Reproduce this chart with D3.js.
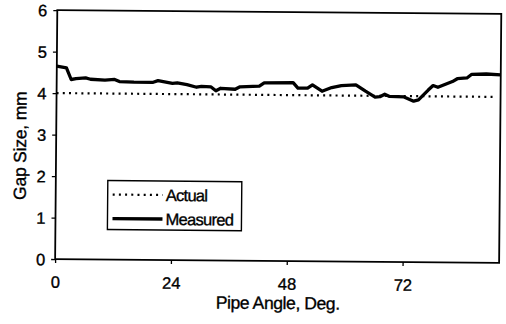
<!DOCTYPE html>
<html>
<head>
<meta charset="utf-8">
<script src="https://cdn.jsdelivr.net/npm/d3@7/dist/d3.min.js"></script>
<style>
  html, body { margin: 0; padding: 0; background: #fff; }
  svg { display: block; }
  text { font-family: "Liberation Sans", Arial, sans-serif; fill: #000; stroke: #000; stroke-width: 0.35px; }
</style>
</head>
<body>
<svg id="chart" width="506" height="324"></svg>
<script>
// Measured gap around the pipe (angle in degrees, gap in mm)
const measuredAngle = [0, 2, 3, 4, 6, 7, 10, 12, 13, 16, 20, 21, 24, 25, 27, 29, 30, 32, 33, 34,
  37, 38, 42, 43, 49, 50, 52, 53, 55, 57, 59, 62, 64, 66, 67, 68, 69, 72, 74, 75,
  77, 78, 79, 82, 83, 85, 86, 89, 92];
const measuredGap = [4.65, 4.61, 4.33, 4.35, 4.37, 4.34, 4.32, 4.34, 4.29, 4.28, 4.28, 4.32, 4.26, 4.27, 4.23, 4.17, 4.19, 4.18, 4.09, 4.15,
  4.13, 4.19, 4.21, 4.29, 4.30, 4.17, 4.17, 4.25, 4.10, 4.19, 4.24, 4.26, 4.11, 3.97, 3.98, 4.04, 3.99, 3.98, 3.88, 3.91,
  4.15, 4.26, 4.22, 4.36, 4.43, 4.45, 4.54, 4.55, 4.53];

// Nominal gap
const actualAngle = [0, 90.5];
const actualGap = [4.0, 4.0];

const xTicks = [0, 24, 48, 72];
const yTicks = [0, 1, 2, 3, 4, 5, 6];
const seriesNames = ["Actual", "Measured"];

const svg = d3.select("#chart");
const g = svg.append("g").attr("transform", "rotate(0.5 278 160)");

const plotL = 56, plotR = 500, plotT = 12, plotB = 261;
const x = d3.scaleLinear().domain([0, 92]).range([plotL, plotR]);
const y = d3.scaleLinear().domain([0, 6]).range([plotB, plotT]);

// plot frame
g.append("rect")
  .attr("x", plotL).attr("y", plotT)
  .attr("width", plotR - plotL).attr("height", plotB - plotT)
  .attr("fill", "none").attr("stroke", "#000").attr("stroke-width", 1.8);

// y axis
const yAxis = g.append("g")
  .attr("transform", `translate(${plotL},0)`)
  .call(d3.axisLeft(y).tickValues(yTicks).tickSize(4).tickPadding(6).tickFormat(d3.format("d")));
yAxis.select(".domain").remove();
yAxis.selectAll("line").attr("stroke", "#000").attr("stroke-width", 1.3);
yAxis.selectAll("text").attr("font-size", 16.5).attr("dy", "0.35em");

// x axis
const xAxis = g.append("g")
  .attr("transform", `translate(0,${plotB})`)
  .call(d3.axisBottom(x).tickValues(xTicks).tickSize(4).tickPadding(13).tickFormat(d3.format("d")));
xAxis.select(".domain").remove();
xAxis.selectAll("line").attr("stroke", "#000").attr("stroke-width", 1.3);
xAxis.selectAll("text").attr("font-size", 16.5);

// axis titles
g.append("text")
  .attr("x", 279).attr("y", 309)
  .attr("text-anchor", "middle").attr("font-size", 17.5).attr("letter-spacing", -0.4)
  .text("Pipe Angle, Deg.");
g.append("text")
  .attr("transform", "translate(26,148) rotate(-90)")
  .attr("text-anchor", "middle").attr("font-size", 17.5).attr("letter-spacing", -0.2)
  .text("Gap Size, mm");

// series
const line = d3.line().x(d => x(d[0])).y(d => y(d[1]));
const actual = actualAngle.map((a, i) => [a, actualGap[i]]);
const measured = measuredAngle.map((a, i) => [a, measuredGap[i]]);

g.append("path").datum(actual)
  .attr("d", line).attr("fill", "none")
  .attr("stroke", "#000").attr("stroke-width", 2.2).attr("stroke-dasharray", "2,4.2");

g.append("path").datum(measured)
  .attr("d", line).attr("fill", "none")
  .attr("stroke", "#000").attr("stroke-width", 3.3).attr("stroke-linejoin", "round");

// legend
const lg = g.append("g").attr("transform", "translate(108,182)");
lg.append("rect").attr("x", 0).attr("y", 0).attr("width", 134).attr("height", 49)
  .attr("fill", "#fff").attr("stroke", "#000").attr("stroke-width", 1.4);
const styles = [{ w: 2.2, dash: "2,4.2" }, { w: 3.3, dash: null }];
seriesNames.forEach((name, i) => {
  const yy = 14 + i * 24;
  lg.append("line").attr("x1", 5).attr("x2", 55).attr("y1", yy).attr("y2", yy)
    .attr("stroke", "#000").attr("stroke-width", styles[i].w)
    .attr("stroke-dasharray", styles[i].dash);
  lg.append("text").attr("x", 58).attr("y", yy).attr("dy", "0.36em")
    .attr("font-size", 16.5).attr("letter-spacing", -0.7).text(name);
});
</script>
</body>
</html>
